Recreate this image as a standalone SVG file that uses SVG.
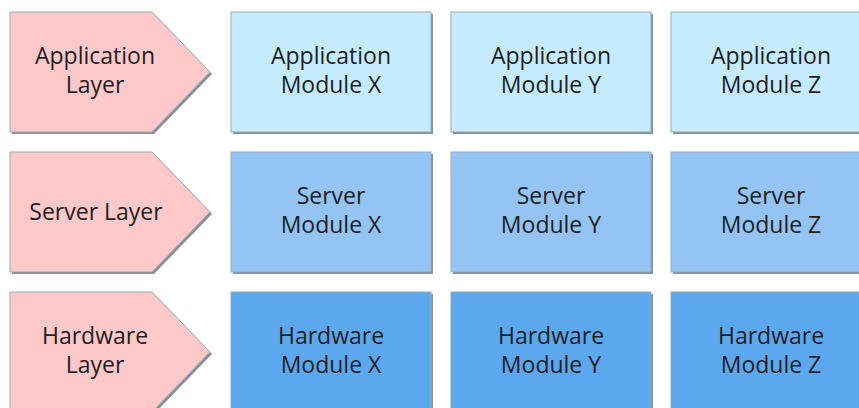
<svg xmlns="http://www.w3.org/2000/svg" width="859" height="408" viewBox="0 0 859 408">
<defs>
<style>
.sh{fill:#6f7c88;opacity:0.85}
.box{stroke:#9aaab8;stroke-width:1}
.layer{fill:#ffc8c9}
.r1{fill:#c4ecfe}
.r2{fill:#93c4f4}
.r3{fill:#5ba8ef}
text{font-family:"Open Sans","Liberation Sans",sans-serif;font-size:23px;fill:#1e1e1e;text-anchor:middle}
</style>
</defs>
<rect width="859" height="408" fill="#ffffff"/>
<g id="application-layer">
<polygon class="sh" points="12,14 154,14 212,74 154,134 12,134"/>
<polygon class="layer box" points="10,12 152,12 210,72 152,132 10,132"/>
<text x="95" y="64">Application</text><text x="95" y="93">Layer</text>
</g>
<g id="server-layer">
<polygon class="sh" points="12,154 154,154 212,214 154,274 12,274"/>
<polygon class="layer box" points="10,152 152,152 210,212 152,272 10,272"/>
<text x="96" y="220">Server Layer</text>
</g>
<g id="hardware-layer">
<polygon class="sh" points="12,294 154,294 212,354 154,414 12,414"/>
<polygon class="layer box" points="10,292 152,292 210,352 152,412 10,412"/>
<text x="95" y="344">Hardware</text><text x="95" y="373">Layer</text>
</g>
<g id="app-x"><rect class="sh" x="233" y="14" width="200" height="120"/><rect class="r1 box" x="231" y="12" width="200" height="120"/><text x="331" y="64">Application</text><text x="331" y="93">Module X</text></g>
<g id="app-y"><rect class="sh" x="453" y="14" width="200" height="120"/><rect class="r1 box" x="451" y="12" width="200" height="120"/><text x="551" y="64">Application</text><text x="551" y="93">Module Y</text></g>
<g id="app-z"><rect class="sh" x="673" y="14" width="200" height="120"/><rect class="r1 box" x="671" y="12" width="200" height="120"/><text x="771" y="64">Application</text><text x="771" y="93">Module Z</text></g>
<g id="srv-x"><rect class="sh" x="233" y="154" width="200" height="120"/><rect class="r2 box" x="231" y="152" width="200" height="120"/><text x="331" y="204">Server</text><text x="331" y="233">Module X</text></g>
<g id="srv-y"><rect class="sh" x="453" y="154" width="200" height="120"/><rect class="r2 box" x="451" y="152" width="200" height="120"/><text x="551" y="204">Server</text><text x="551" y="233">Module Y</text></g>
<g id="srv-z"><rect class="sh" x="673" y="154" width="200" height="120"/><rect class="r2 box" x="671" y="152" width="200" height="120"/><text x="771" y="204">Server</text><text x="771" y="233">Module Z</text></g>
<g id="hw-x"><rect class="sh" x="233" y="294" width="200" height="120"/><rect class="r3 box" x="231" y="292" width="200" height="120"/><text x="331" y="344">Hardware</text><text x="331" y="373">Module X</text></g>
<g id="hw-y"><rect class="sh" x="453" y="294" width="200" height="120"/><rect class="r3 box" x="451" y="292" width="200" height="120"/><text x="551" y="344">Hardware</text><text x="551" y="373">Module Y</text></g>
<g id="hw-z"><rect class="sh" x="673" y="294" width="200" height="120"/><rect class="r3 box" x="671" y="292" width="200" height="120"/><text x="771" y="344">Hardware</text><text x="771" y="373">Module Z</text></g>
<g id="connectors"/>
</svg>
